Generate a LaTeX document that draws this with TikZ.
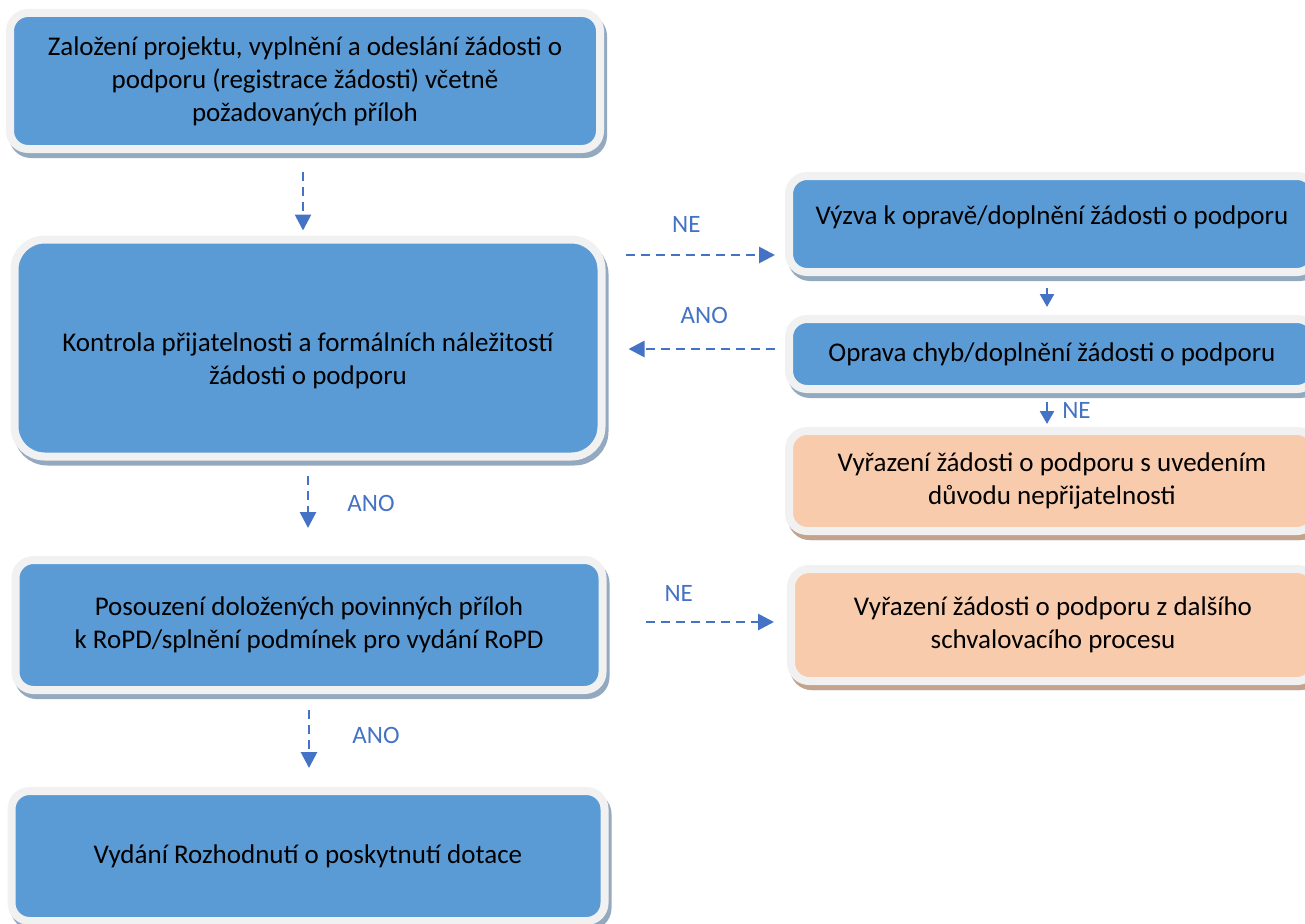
\documentclass[tikz,border=0pt]{standalone}
\usepackage{fontspec}
\setmainfont{Carlito}
\usetikzlibrary{shapes,shadows,arrows.meta,positioning}
\definecolor{modra}{HTML}{5B9BD5}
\definecolor{oranz}{HTML}{F8CBAD}
\definecolor{okraj}{HTML}{F1F1F1}
\definecolor{stinmodra}{HTML}{93A9C0}
\definecolor{stinoranz}{HTML}{C4A28C}
\definecolor{sipkova}{HTML}{4472C4}

\begin{document}
\begin{tikzpicture} [x=1pt,y=-1pt,
  blok/.style= {shape=rectangle,rounded corners=18pt,draw=okraj,line width=8pt,fill=modra,inner sep=0,align=center,font=\fontsize{27}{33}\selectfont,general shadow={draw=stinmodra,fill=stinmodra,line width=8pt,shadow xshift=3pt,shadow yshift=-5pt}},
  vyrazeni/.style= {blok,fill=oranz,general shadow={draw=stinoranz,fill=stinoranz,line width=8pt,shadow xshift=3pt,shadow yshift=-5pt}},
  carka/.style= {draw=sipkova,line width=2.8pt,dash pattern=on 9pt off 6pt,-{Triangle[length=16pt,width=16pt]}},
  plna/.style= {draw=sipkova,line width=2.5pt,-{Triangle[length=13pt,width=14pt]}},
  popis/.style= {text=sipkova,font=\fontsize{25}{29}\selectfont,inner sep=0}]
  \useasboundingbox (0,0) rectangle (1305,923);
  % Left column
  {\node[blok][minimum width=590pt,minimum height=136pt] (1;1) at (305,81) {Založení projektu, vyplnění a odeslání žádosti o\\podporu (registrace žádosti) včetně\\požadovaných příloh};}
  {\node[blok][minimum width=587pt,minimum height=217pt,rounded corners=30pt] (1;2) at (308,348) {\rule{0pt}{45pt}Kontrola přijatelnosti a formálních náležitostí\\žádosti o podporu};}
  {\node[blok][minimum width=587pt,minimum height=130pt] (1;3) at (309,625) {Posouzení doložených povinných příloh\\k RoPD/splnění podmínek pro vydání RoPD};}
  {\node[blok][minimum width=593pt,minimum height=130pt] (1;4) at (308,856) {Vydání Rozhodnutí o poskytnutí dotace};}
  % Right column
  {\node[blok][minimum width=526pt,minimum height=96pt] (2;1) at (1052,224) {Výzva k opravě/doplnění žádosti o podporu\\[-15pt]};}
  {\node[blok][minimum width=526pt,minimum height=70pt] (2;2) at (1052,354) {Oprava chyb/doplnění žádosti o podporu};}
  {\node[vyrazeni][minimum width=526pt,minimum height=100pt] (2;3) at (1052,481) {Vyřazení žádosti o podporu s uvedením\\důvodu nepřijatelnosti};}
  {\node[vyrazeni][minimum width=524pt,minimum height=112pt] (2;4) at (1053,625) {Vyřazení žádosti o podporu z dalšího\\schvalovacího procesu};}
  % Arrows
  {\draw[carka][shorten <=19pt,shorten >=5pt] ([xshift=-2pt]1;1.south) -- ([xshift=-2pt]1;1.south |- 1;2.north);}
  {\draw[carka][shorten <=20pt,shorten >=10pt] ([yshift=-31pt]2;1.west -| 1;2.east) -- node[popis,above=21pt,pos=0.45] (ne1) {NE} ([yshift=-31pt]2;1.west);}
  {\draw[plna][shorten <=12pt,shorten >=8pt] ([xshift=-5pt]2;1.south) -- ([xshift=-5pt]2;2.north);}
  {\draw[carka][shorten <=10pt,shorten >=23pt] ([yshift=5pt]2;2.west) -- node[popis,above=24pt,pos=0.45] (ano1) {ANO} ([yshift=5pt]2;2.west -| 1;2.east);}
  {\draw[plna][shorten <=9pt,shorten >=3pt] ([xshift=-5pt]2;2.south) -- node[popis,right=14pt] (ne2) {NE} ([xshift=-5pt]2;3.north);}
  {\draw[carka][shorten <=15pt,shorten >=28pt] (1;2.south) -- node[popis,right=38pt,pos=0.45] (ano2) {ANO} (1;2.south |- 1;3.north);}
  {\draw[carka][shorten <=39pt,shorten >=13pt] ([yshift=3pt]1;3.east) -- node[popis,above=19pt,pos=0.4] (ne3) {NE} ([yshift=3pt]1;3.east -| 2;4.west);}
  {\draw[carka][shorten <=16pt,shorten >=19pt] (1;3.south) -- node[popis,right=42pt,pos=0.45] (ano3) {ANO} (1;3.south |- 1;4.north);}
\end{tikzpicture}
\end{document}
